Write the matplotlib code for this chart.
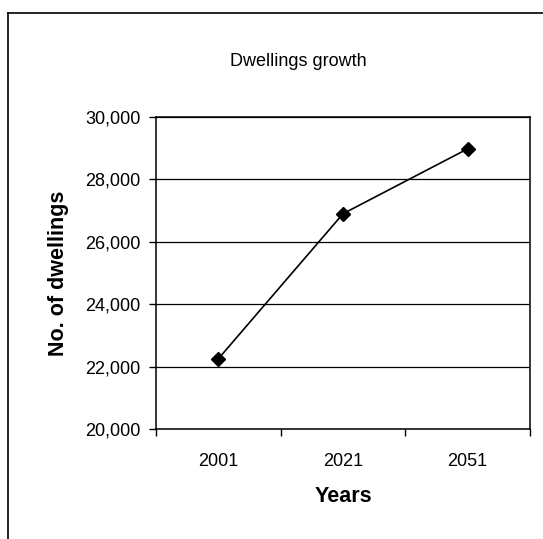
import matplotlib.pyplot as plt
from matplotlib.lines import Line2D

plt.rcParams['font.family'] = ['Liberation Sans', 'DejaVu Sans']

# datos
years = ['2001', '2021', '2051']
dwellings = [22250, 26900, 28980]
yticks = [20000, 22000, 24000, 26000, 28000, 30000]

W, H = 543, 539
fig = plt.figure(figsize=(W / 100, H / 100), dpi=100)
ax = fig.add_axes([156 / W, 1 - 429 / H, (530 - 156) / W, (429 - 117) / H])

x = list(range(len(years)))
ax.plot(x, dwellings, color='black', lw=1.2, marker='D', markersize=7, zorder=3)

ax.set_xlim(-0.5, len(years) - 0.5)
ax.set_ylim(20000, 30000)
ax.set_yticks(yticks)
ax.set_yticklabels([f'{v:,}' for v in yticks])
ax.set_xticks(x)
ax.set_xticklabels(years)
# marcas entre categorias
ax.set_xticks([i - 0.5 for i in range(len(years) + 1)], minor=True)
ax.tick_params(axis='x', which='major', length=0, pad=17, labelsize=13)
ax.tick_params(axis='x', which='minor', length=5, width=1, direction='out')
ax.tick_params(axis='y', length=5, width=1, pad=6, labelsize=13)

ax.grid(axis='y', color='black', lw=0.9)
ax.set_axisbelow(True)
for s in ax.spines.values():
    s.set_color('black')
    s.set_linewidth(1.1)

ax.set_xlabel('Years', fontsize=15.5, fontweight='bold', labelpad=12)
ax.set_ylabel('No. of dwellings', fontsize=15.5, fontweight='bold', labelpad=12)
fig.text(298 / W, 1 - 62 / H, 'Dwellings growth', ha='center', va='center', fontsize=13)

# borde del grafico
fig.add_artist(Line2D([8 / W, 1.01], [1 - 13 / H, 1 - 13 / H], color='black', lw=1.2))
fig.add_artist(Line2D([8 / W, 8 / W], [-0.01, 1 - 13 / H], color='black', lw=1.2))

fig.savefig('out.png', dpi=100)
